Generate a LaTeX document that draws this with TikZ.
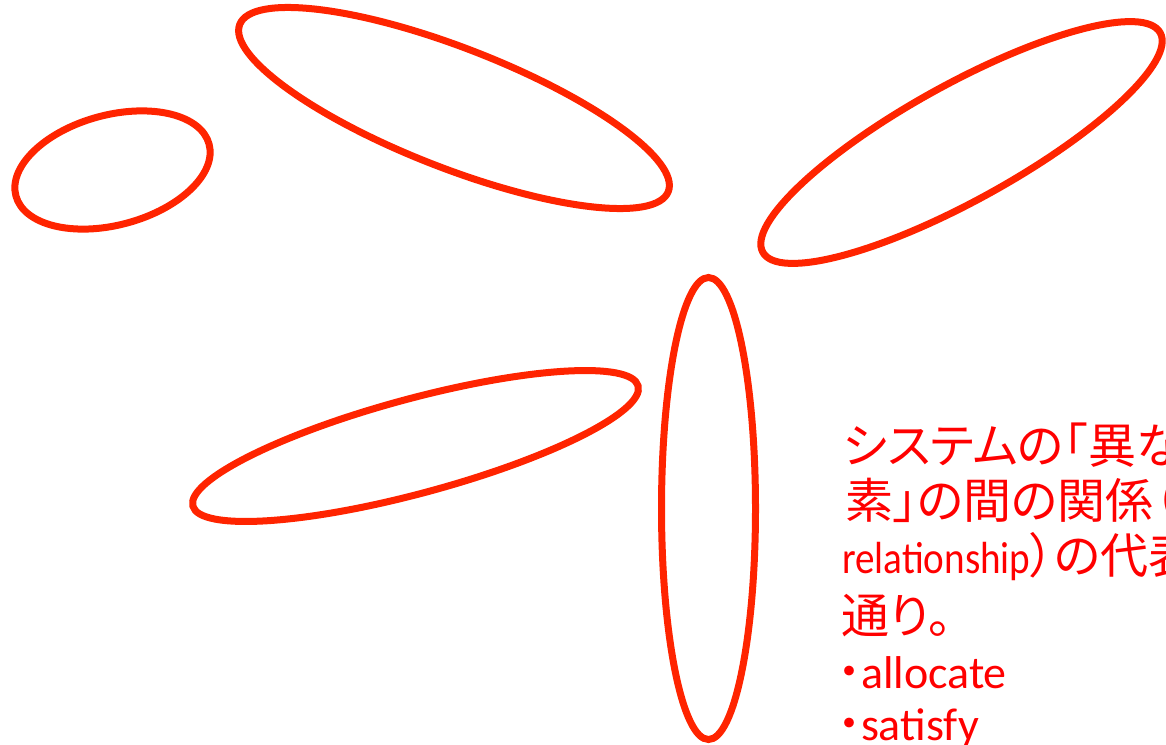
\documentclass[tikz,border=0pt]{standalone}
\usepackage{fontspec}
\setmainfont{Carlito}
\newfontfamily\jp[RawFeature=+palt]{Noto Sans CJK JP}
\definecolor{ellred}{RGB}{255,36,0}
\definecolor{txtred}{RGB}{255,0,0}
\tikzset{
  loop/.style={draw=ellred, line width=7pt},
  txt/.style={anchor=base west, inner sep=0pt, outer sep=0pt, text=txtred},
  jpfont/.style={font=\jp\fontsize{48}{48}\selectfont},
  lafont/.style={font=\fontsize{46}{46}\selectfont},
}
\begin{document}
\begin{tikzpicture}[x=1pt,y=-1pt]
\useasboundingbox (0,0) rectangle (1166,744);
\clip (0,0) rectangle (1166,744);
% ellipses
\draw[loop, rotate around={15:(112.5,170)}] (112.5,170) ellipse [x radius=100pt, y radius=55pt];
\draw[loop, rotate around={-21.3:(454,108)}] (454,108) ellipse [x radius=230pt, y radius=60pt];
\draw[loop, rotate around={28.9:(961.5,142.5)}] (961.5,142.5) ellipse [x radius=227pt, y radius=58pt];
\draw[loop, rotate around={15.1:(415.5,446)}] (415.5,446) ellipse [x radius=230.6pt, y radius=47.3pt];
\draw[loop] (708.5,508.5) ellipse [x radius=47pt, y radius=231pt];
% text
\node[txt, jpfont] (t1) at (843,463) {システムの「異な};
\node[txt, jpfont] (t2) at (845,518) {素」の間の関係（};
\node[txt, font=\fontsize{45}{45}\selectfont] (t3) at (842,573) {\scalebox{0.87}[1]{relationship}{\jp\fontsize{48}{48}\selectfont ）の代表}};
\node[txt, jpfont] (t4) at (841,633) {通り。};
\node[txt, lafont] (t5) at (838,688) {{\jp ・}allocate};
\node[txt, lafont] (t6) at (838,740) {{\jp ・}satisfy};
\end{tikzpicture}
\end{document}
